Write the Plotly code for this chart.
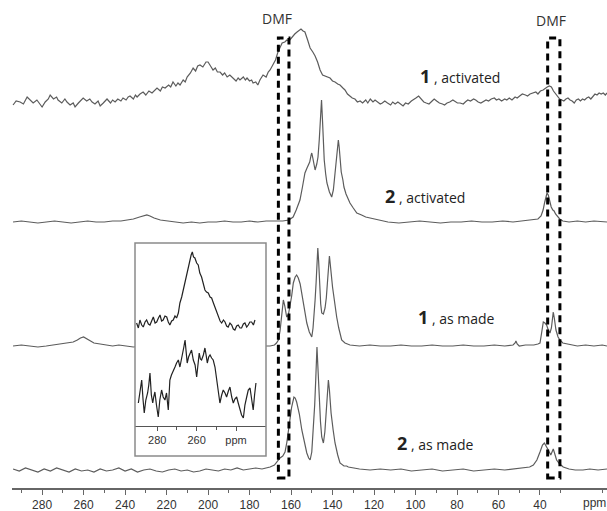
import plotly.graph_objects as go

# ---------------- data (ppm, intensity above each spectrum's baseline) ----------------
T1A_ppm = [294,292.5,290.6,289,287.2,285.8,284.3,282.5,281,280,278.5,277,276.1,274.5,273,272.3,270.5,269,268,266.5,265,264.1,262.5,261,260.2,258.5,257,255.9,254.5,253,252,250.5,249.5,248.7,247,246,244.8,243.5,242,241,239.5,238.5,237.6,236,235,234.2,232.8,231.3,230,228.5,227,225.8,224.6,223,222,220.7,219,218,216.9,215.5,214.5,213.5,212,211,210.1,208.5,207.2,206,205,203.9,202.5,201,200,198.8,197.6,196.5,195.5,194.2,193,192,190.8,189.5,188,186.5,185.5,184.6,183,182,181.2,180,179,178.3,177,176,175,173.5,172,171,170.1,168.5,167.5,166.3,165.2,164.3,163,162,161,159.5,158.2,157.1,156,155.2,154.2,153.3,152,150.8,149.5,148.4,147.2,146,144.8,143.6,142.5,141.2,140,138.8,137.5,136.4,135,134,132.8,131.6,130.5,129.2,128,126.7,125.5,124,123,121.8,120.5,119.5,118.5,117,116,114.8,113.5,112,111,109.8,108.5,107,106,104.8,103.5,102,101,99.8,98.5,97,96,94.8,93.5,92,91,89.8,88.5,87,86,84.8,83.5,82,81,79.8,78.5,77,76,74.8,73.5,72,71,69.8,68.5,67,66,64.8,63.5,62,61,59.8,58.5,57,56,54.8,53.5,52,51,49.8,48.5,47,46,44.8,43.5,42,41,39.8,38.5,37.5,36.5,35.5,34.5,33.5,32.5,31.5,30.5,29.5,28.5,27.5,26.5,25.5,24.5,23.5,22.5,21.5,20.5,19.5,18.5,17.5,16.5,15.5,14.5,13.5,12.5,11.5,10.5,9.5,8.5,7.7]
T1A_int = [-3,1,0,-2,5,2,-1,2,-3,-5,0,3,7,3,5,2,-1,3,0,-3,-1,-5,-1,2,4,1,3,0,-2,1,-4,-1,1,3,-1,2,0,3,1,4,2,5,6,3,7,5,8,10,7,11,9,12,14,11,15,14,17,15,20,16,19,17,22,20,25,29,34,31,36,37,35,40,40,36,32,34,30,30,27,29,25,27,24,21,24,22,25,22,24,21,22,19,20,17,22,27,25,30,32,38,42,50,55,59,60,62,61,65,68,70,72,73,71,70,62,54,50,46,40,32,27,26,25,24,21,20,18,17,14,12,8,6,4,3,0,1,-1,2,-1,3,0,2,0,-2,-1,1,-1,-3,0,-2,0,-3,-4,-1,-2,1,2,4,6,2,0,-1,-2,1,3,1,-1,-2,-3,-1,0,2,1,-1,-1,-2,0,2,1,3,2,0,-1,1,2,1,3,4,2,3,1,3,2,4,2,5,4,6,8,7,6,8,9,10,8,11,12,14,15,16,15,11,8,5,3,2,1,3,4,2,1,-1,2,3,1,3,2,4,5,3,6,8,7,9,8,9,7,9]

T2A_ppm = [294,290,286,282,278,274,270,266,262,258,254,250,246,242,239,236,233,231,229.5,228,226,223,220,216,212,208,204,200,196,192,188,184,180,176,172,168,164,161,159,157.5,155.7,154.5,153.3,152.3,151,150.3,150,149.5,148.9,148.4,147.6,147,146.4,145.8,145.3,144.8,144.4,144,143.3,142.7,141.5,140.4,139.6,138.8,138.2,137.6,137.2,136.8,136.3,135.8,135,134.5,133.5,132.5,131.6,130,128.3,126,124,121.9,118,113.3,108,103,98,93,88,83,78,73,68,63,58,53,48,44,41,39.5,38.5,37.7,37.2,36.6,36,35.4,34.6,33.8,33.2,32.5,31.5,30.5,29,26,22,18,14,10,7.7]
T2A_int = [0,1,0,-1,0,1,0,-1,0,1,0,0,1,1,2,3,5,6,7,6,4,2,1,0,-1,0,-1,0,0,1,0,0,1,0,1,1,1,2,5,12,22,35,49,54,60,67,69,64,55,52,58,65,82,105,122,100,75,62,48,39,30,25,32,49,66,80,82,75,60,50,42,35,28,23,19,14,9,7,5,4,2,0,-1,0,1,0,-1,0,0,1,0,0,1,0,1,2,3,6,12,20,26,29,27,22,15,12,11,8,5,3,1,0,1,0,1,0,0]

T1M_ppm = [294,290,286,282,278,274,271,268,265,263,261.5,260,258.5,257,255,252,249,246,243,240,236,232,228,224,220,216,212,208,204,200,196,192,188,184,180,176,173,170.1,168,167,166.1,165.3,164.5,163.7,163,162.1,161.3,160.5,159.7,158.9,158,157.3,156.5,155.6,154.8,153.6,152.4,151.2,150,149.4,148.9,148.4,147.9,147.5,147.1,146.7,146.2,145.7,145.2,144.4,143.6,143,142.4,141.9,141.5,141.1,140.6,140,139.6,138.8,138,137,135.6,134,131.6,127,122,117,112,107,102,97,92,87,82,77,72,67,62,57,53,52,51.6,51,50,47,43,41,40,39.3,38.8,38.4,37.6,36.8,36,35.2,34.5,34,33.6,33.1,32.3,31.3,30.4,29,27,25.5,22,18,14,10,7.7]
T1M_int = [0,1,0,-1,0,1,2,3,4,6,8,9,7,5,3,2,1,0,1,0,-1,0,0,1,0,0,1,0,0,1,0,0,1,0,0,1,0,0,1,3,6,15,29,46,40,29,31,39,50,63,69,71,68,62,53,38,23,14,9,18,30,46,64,85,98,85,62,42,33,32,38,48,65,82,90,82,68,59,53,40,29,18,6,3,1,0,1,0,0,1,0,0,1,0,0,1,0,0,1,0,1,3,5,2,0,1,1,2,3,12,22,24,23,21,16,13,18,28,34,28,16,9,6,3,2,1,0,1,0,1,0]

T2M_ppm = [294,291,288,285,282,279,276,273,270,267,264,261,258,255,252,249,246,243,240,237,234,231,228,225,222,219,216,213,210,207,204,201,198,195,192,189,186,183,180,177,174,171,170.1,168,166.5,165.3,164,162.9,162,161.3,160.5,159.7,158.6,158,157.3,156,154.8,153.6,152.4,151.5,150.8,150,149.2,148.6,148.1,147.8,147.5,147.1,146.5,145.8,145.2,144.4,143.7,143.1,142.5,142,141.5,140.7,139.7,138.8,137.5,136.4,134.5,133.2,132.4,130,127,121.9,117,112,107,102,97,92,87,82,77,72,67,62,57,52,48,45,43.2,41.5,40,38.8,37.9,37,36,34.8,34.2,33.6,33,32,30.5,28.8,26,23,19.3,16,12,7.7]
T2M_int = [1,-1,2,0,-2,1,-1,2,0,-2,1,-1,0,-2,1,-1,0,2,-1,1,-2,0,1,-1,-2,0,1,-1,0,-2,-1,1,0,-1,1,0,2,0,1,2,1,2,3,5,9,12,14,18,28,40,52,63,73,72,68,56,40,27,17,12,10,18,40,65,90,110,123,105,73,48,33,27,38,57,78,90,80,57,40,27,15,7,4,4,3,2,1,0,1,0,1,-1,0,1,-1,0,1,-1,0,1,0,1,2,3,5,10,18,25,27,24,20,15,18,21,17,10,6,3,1,0,0,1,0,1]

INSET_TOP_ppm = [290.5,289.6,288.8,287.9,287.1,286.2,285.4,284.5,283.7,282.8,282.0,281.1,280.3,279.4,278.6,277.8,277.0,276.1,275.2,274.4,273.6,272.7,271.9,271.0,270.2,269.3,268.5,267.6,266.8,266.0,265.1,264.2,263.4,262.8,262.2,261.6,260.9,260.0,259.2,258.4,257.5,256.6,255.8,255.0,254.1,253.2,252.4,251.5,250.7,249.8,249.0,248.1,247.3,246.4,245.6,244.8,244.0,243.1,242.2,241.4,240.6,239.7,238.9,238.0,237.2,236.3,235.5,234.6,233.8,233.0,232.1,231.2,230.4]
INSET_TOP_int = [2,-3,5,0,-2,3,5,1,0,4,8,2,3,7,10,4,5,9,8,3,0,4,5,9,7,12,22,28,35,44,52,58,65,70,73,68,67,62,60,52,48,40,35,33,32,28,27,22,18,12,8,4,2,5,3,-1,-2,2,0,-4,-5,-1,0,-3,-3,1,2,-2,0,3,3,0,5]

INSET_BOT_ppm = [289.6,288.8,287.9,287.2,286.6,285.8,284.9,284.3,283.7,283.0,282.3,281.8,281.2,280.4,279.5,278.7,277.8,277.0,276.1,275.3,274.4,274.0,273.6,272.8,271.9,271.0,270.2,269.3,268.5,267.8,267.1,266.5,265.9,265.3,264.8,264.1,263.4,262.6,261.7,260.8,260.0,259.3,258.7,258.1,257.5,256.6,255.8,255.2,254.6,253.9,253.2,252.4,251.6,250.7,249.8,249.0,248.2,247.3,246.5,245.6,244.8,243.9,243.1,242.2,241.4,240.6,239.7,238.9,238.0,237.2,236.3,235.5,234.6,233.8,232.9,232.1,231.3,230.6,229.9]
INSET_BOT_int = [2,15,25,5,-8,5,12,20,32,10,2,8,13,0,-12,5,15,8,5,12,-5,10,25,30,35,38,42,45,38,44,50,58,65,50,42,48,52,55,45,40,28,40,52,46,45,50,57,50,42,48,50,47,45,38,25,12,2,10,15,12,8,14,18,8,2,6,8,2,-5,-10,-13,0,8,15,17,5,-5,10,22]

LABELS = ["1", "2", "1", "2"]
CONDITIONS = ["activated", "activated", "as made", "as made"]
MAIN_TICKS = [280, 260, 240, 220, 200, 180, 160, 140, 120, 100, 80, 60, 40]
MINOR_TICKS = [290, 270, 250, 230, 210, 190, 170, 150, 130, 110, 90, 70, 50, 30, 10]
INSET_TICKS = [280, 260, 240]
INSET_TICKTEXT = ["280", "260", "ppm"]
INSET_MINOR = [270, 250]
DMF_REGIONS = [(166.1, 161.0), (36.3, 30.4)]

# ---------------- layout constants (screen pixels) ----------------
W, H = 607, 511
SL, SR, ST, SB = 12, 607, 0, 488          # plot area on screen
ML, MR, MT, MB = SL, W - SR, ST, H - SB
PH = SB - ST
OFFSETS = [386, 266, 142, 18]
INSET_OFFSETS = [131, 51]
XR = [294.5, 7.7]
YR = [0, PH]
XR2 = [291.3, 224.8]
YR2 = [0, 213]

def fx(p):
    return (p - SL) / (SR - SL)

def fy(p):
    return (SB - p) / (SB - ST)

LINE_GREY = "#5c5c5c"
fig = go.Figure()

series = [(T1A_ppm, T1A_int), (T2A_ppm, T2A_int), (T1M_ppm, T1M_int), (T2M_ppm, T2M_int)]
for (xs, ys), off in zip(series, OFFSETS):
    fig.add_trace(go.Scatter(x=xs, y=[v + off for v in ys], mode="lines",
                             line=dict(color=LINE_GREY, width=1.2), hoverinfo="skip",
                             showlegend=False, xaxis="x", yaxis="y"))

# white background of inset (drawn in the inset subplot so it covers the main traces)
fig.add_trace(go.Scatter(x=[XR2[0], XR2[1], XR2[1], XR2[0], XR2[0]],
                         y=[YR2[0], YR2[0], YR2[1], YR2[1], YR2[0]],
                         mode="lines", fill="toself", fillcolor="white",
                         line=dict(width=0, color="white"), hoverinfo="skip",
                         showlegend=False, xaxis="x2", yaxis="y2"))
for (xs, ys), off in zip([(INSET_TOP_ppm, INSET_TOP_int), (INSET_BOT_ppm, INSET_BOT_int)], INSET_OFFSETS):
    fig.add_trace(go.Scatter(x=xs, y=[v + off for v in ys], mode="lines",
                             line=dict(color="#222222", width=1.2), hoverinfo="skip",
                             showlegend=False, xaxis="x2", yaxis="y2"))

shapes = []
for hi, lo in DMF_REGIONS:
    shapes.append(dict(type="rect", xref="x", yref="y", x0=hi, x1=lo,
                       y0=SB - 478, y1=SB - 38,
                       line=dict(color="black", width=3, dash="7px,5px"), layer="above"))
# inset frame
shapes.append(dict(type="rect", xref="paper", yref="paper", x0=fx(135), x1=fx(266),
                   y0=fy(456), y1=fy(243), line=dict(color="#8a8a8a", width=1.5), layer="above"))

annotations = []
label_pos = [(418, 76), (383, 196), (416, 317), (395, 443)]
for num, cond, (lx, ly) in zip(LABELS, CONDITIONS, label_pos):
    annotations.append(dict(xref="paper", yref="paper", x=fx(lx), y=fy(ly),
                            xanchor="left", yanchor="middle", showarrow=False,
                            text=f"<b><span style='font-size:18px'>{num}</span></b> , {cond}",
                            font=dict(family="Open Sans", size=14, color="#222222")))
for cx, cy in [(277, 19), (551, 20)]:
    annotations.append(dict(xref="paper", yref="paper", x=fx(cx), y=fy(cy),
                            xanchor="center", yanchor="middle", showarrow=False,
                            text="DMF", font=dict(family="Open Sans", size=14, color="#333333")))
annotations.append(dict(xref="paper", yref="paper", x=fx(594), y=fy(503),
                        xanchor="center", yanchor="middle", showarrow=False,
                        text="ppm", font=dict(family="Liberation Sans", size=12, color="#333333")))

fig.update_layout(
    width=W, height=H,
    margin=dict(l=ML, r=MR, t=MT, b=MB, pad=0, autoexpand=False),
    paper_bgcolor="white", plot_bgcolor="white",
    showlegend=False,
    xaxis=dict(range=XR, domain=[0, 1], showgrid=False, zeroline=False,
               showline=True, linecolor="#666666", linewidth=1.5,
               ticks="outside", ticklen=5, tickwidth=1, tickcolor="#666666",
               tickvals=MAIN_TICKS, ticktext=[str(t) for t in MAIN_TICKS],
               tickfont=dict(family="Liberation Sans", size=12, color="#333333"),
               minor=dict(tickvals=MINOR_TICKS, ticks="outside", ticklen=3,
                          tickcolor="#666666", showgrid=False),
               anchor="y"),
    yaxis=dict(range=YR, domain=[0, 1], visible=False, fixedrange=True),
    xaxis2=dict(range=XR2, domain=[fx(135), fx(266)], anchor="free", position=fy(425.7),
                showgrid=False, zeroline=False, showline=True, linecolor="#555555", linewidth=1,
                ticks="outside", ticklen=4, tickwidth=1, tickcolor="#555555",
                tickvals=INSET_TICKS, ticktext=INSET_TICKTEXT,
                tickfont=dict(family="Liberation Sans", size=11, color="#333333"),
                minor=dict(tickvals=INSET_MINOR, ticks="outside", ticklen=3,
                           tickcolor="#555555", showgrid=False)),
    yaxis2=dict(range=YR2, domain=[fy(456), fy(243)], anchor="x2", visible=False),
    shapes=shapes, annotations=annotations,
)

fig.write_html("out.html", config={"displayModeBar": False},
               post_script="document.body.style.margin='0';document.body.style.overflow='hidden';")
